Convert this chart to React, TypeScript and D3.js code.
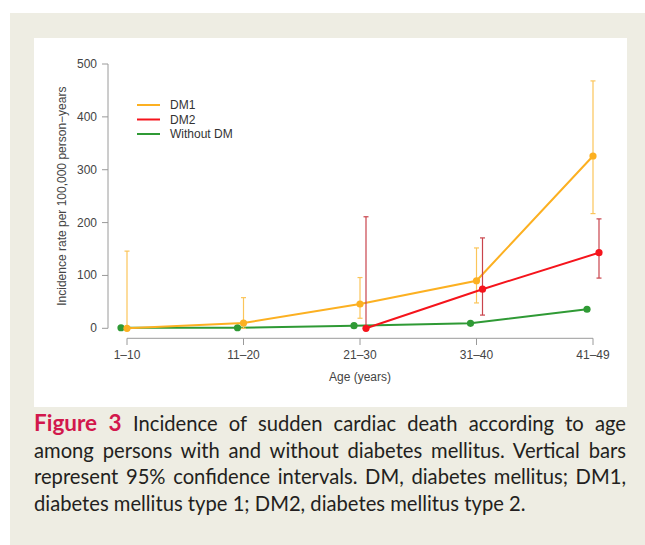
import { useRef, useLayoutEffect } from 'react';
import * as d3 from 'd3';

const ageGroups = ['1–10', '11–20', '21–30', '31–40', '41–49'];
const yTicks = [0, 100, 200, 300, 400, 500];

// DM1
const dm1Rate = [0, 10, 46, 90, 326];
const dm1Low = [0, 0, 19, 48, 217];
const dm1High = [146, 58, 96, 152, 468];

// DM2 (no events below 21 years)
const dm2Rate: (number | null)[] = [null, null, 0, 74, 143];
const dm2Low: (number | null)[] = [null, null, 0, 25, 95];
const dm2High: (number | null)[] = [null, null, 211, 171, 207];

// Without DM
const noDmRate = [1, 1, 5, 9.5, 36];

const legendLabels = ['DM1', 'DM2', 'Without DM'];

const captionLines = [
  'Incidence of sudden cardiac death according to age',
  'among persons with and without diabetes mellitus. Vertical bars',
  'represent 95% confidence intervals. DM, diabetes mellitus; DM1,',
  'diabetes mellitus type 1; DM2, diabetes mellitus type 2.',
];

const W = 645;
const H = 545;
const chartFont = '"Liberation Sans", Arial, sans-serif';
const capFont = 'Lato, "Open Sans", sans-serif';

interface Series {
  name: string;
  color: string;
  barColor: string;
  offset: number;
  rate: (number | null)[];
  low?: (number | null)[];
  high?: (number | null)[];
}

const series: Series[] = [
  { name: legendLabels[2], color: '#2f9a35', barColor: '#2f9a35', offset: -6, rate: noDmRate },
  { name: legendLabels[0], color: '#fcb021', barColor: '#fbc55a', offset: 0, rate: dm1Rate, low: dm1Low, high: dm1High },
  { name: legendLabels[1], color: '#f5141c', barColor: '#c9444c', offset: 6, rate: dm2Rate, low: dm2Low, high: dm2High },
];

export default function App() {
  const capRef = useRef<SVGGElement>(null);

  const x = d3.scalePoint<string>().domain(ageGroups).range([127, 593]);
  const y = d3.scaleLinear().domain([0, 500]).range([328.3, 64]);

  useLayoutEffect(() => {
    if (!capRef.current) return;
    const target = 626 - 34;
    d3.select(capRef.current)
      .selectAll<SVGTextElement, unknown>('text.just')
      .each(function () {
        const el = this;
        el.setAttribute('word-spacing', '0');
        const len = el.getComputedTextLength();
        const spaces = (el.textContent || '').split(' ').length - 1;
        if (spaces > 0) el.setAttribute('word-spacing', String((target - len) / spaces));
      });
  }, []);

  const lineGen = d3
    .line<{ xv: number; v: number | null }>()
    .defined(d => d.v !== null)
    .x(d => d.xv)
    .y(d => y(d.v as number));

  return (
    <svg width={W} height={H} style={{ position: 'absolute', left: 0, top: 0 }}>
      <rect x={0} y={0} width={W} height={H} fill="#fff" />
      <rect x={10} y={13} width={W - 10} height={H - 13} fill="#eeede3" />
      <rect x={34} y={38} width={593} height={369} fill="#fff" />

      {/* y axis */}
      <g fontFamily={chartFont} fontSize={12} fill="#444">
        <line x1={108} x2={108} y1={y(0)} y2={y(500)} stroke="#9a9a9a" />
        {yTicks.map(t => (
          <g key={t}>
            <line x1={102} x2={108} y1={y(t)} y2={y(t)} stroke="#9a9a9a" />
            <text x={97} y={y(t)} textAnchor="end" dominantBaseline="central">{t}</text>
          </g>
        ))}
        <text
          transform={`translate(62,${(y(0) + y(500)) / 2}) rotate(-90)`}
          textAnchor="middle"
          dominantBaseline="central"
          fontSize={12}
        >
          Incidence rate per 100,000 person−years
        </text>
      </g>

      {/* x axis */}
      <g fontFamily={chartFont} fontSize={12} fill="#444">
        <line x1={x(ageGroups[0])} x2={x(ageGroups[4])} y1={338.3} y2={338.3} stroke="#9a9a9a" />
        {ageGroups.map(g => (
          <g key={g}>
            <line x1={x(g)} x2={x(g)} y1={338.3} y2={345} stroke="#9a9a9a" />
            <text x={x(g)} y={355} textAnchor="middle" dominantBaseline="central">{g}</text>
          </g>
        ))}
        <text x={x(ageGroups[2])} y={377} textAnchor="middle" dominantBaseline="central">Age (years)</text>
      </g>

      {/* series */}
      {series.map(s => {
        const pts = s.rate.map((v, i) => ({ xv: (x(ageGroups[i]) as number) + s.offset, v }));
        return (
          <g key={s.name}>
            <path d={lineGen(pts) || ''} fill="none" stroke={s.color} strokeWidth={2} />
            {s.high &&
              pts.map((p, i) =>
                s.high![i] === null ? null : (
                  <g key={i} stroke={s.barColor} strokeWidth={1.2}>
                    <line x1={p.xv} x2={p.xv} y1={y(s.low![i] as number)} y2={y(s.high![i] as number)} />
                    <line x1={p.xv - 2.5} x2={p.xv + 2.5} y1={y(s.high![i] as number)} y2={y(s.high![i] as number)} />
                    <line x1={p.xv - 2.5} x2={p.xv + 2.5} y1={y(s.low![i] as number)} y2={y(s.low![i] as number)} />
                  </g>
                )
              )}
            {pts.map((p, i) => (p.v === null ? null : <circle key={i} cx={p.xv} cy={y(p.v)} r={3.6} fill={s.color} />))}
          </g>
        );
      })}

      {/* legend */}
      <g fontFamily={chartFont} fontSize={12} fill="#333">
        {[series[1], series[2], series[0]].map((s, i) => (
          <g key={s.name} transform={`translate(0,${105 + i * 14.5})`}>
            <line x1={137} x2={160} y1={0} y2={0} stroke={s.color} strokeWidth={2} />
            <text x={170} y={0} dominantBaseline="central">{s.name}</text>
          </g>
        ))}
      </g>

      {/* caption */}
      <g ref={capRef} fontFamily={capFont} fontSize={20.2} fill="#231f20">
        {captionLines.map((ln, i) => (
          <text key={i} className={i < 3 ? 'just' : ''} x={34} y={431 + i * 26.7}>
            {i === 0 && (
              <tspan fontWeight="bold" fontSize={22.5} fill="#d2184c">Figure 3 </tspan>
            )}
            {ln}
          </text>
        ))}
      </g>
    </svg>
  );
}
